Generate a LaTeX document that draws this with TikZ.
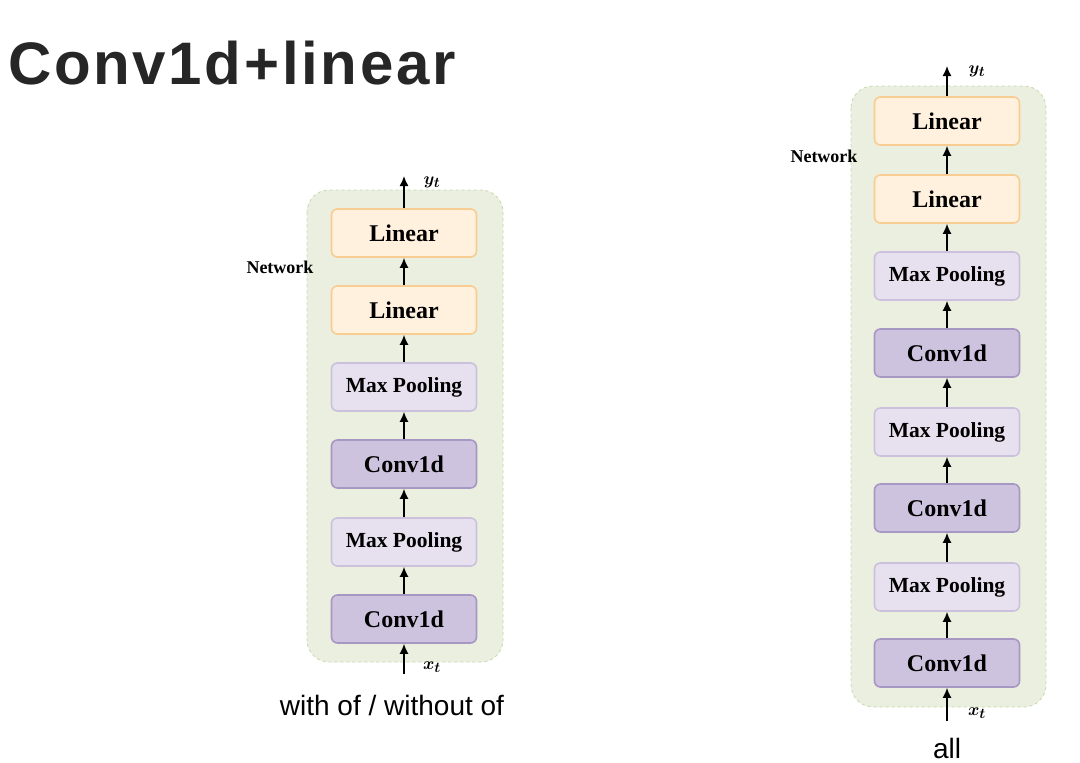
\documentclass[tikz,border=0pt]{standalone}
\usepackage{amsmath}
\usepackage{bm}
\usepackage{fontspec}
\usepackage{tikz}
\usepackage{xcolor}
\usetikzlibrary{arrows.meta}
\usetikzlibrary{positioning}
\setmainfont{Liberation Serif}
\newfontfamily\titlefont[LetterSpace=4.5]{Liberation Sans}
\newfontfamily\capfont{Liberation Sans}

\definecolor{linfill}{HTML}{FFF1DE}
\definecolor{linline}{HTML}{F8CD92}
\definecolor{poolfill}{HTML}{E7E1EF}
\definecolor{poolline}{HTML}{CCC1DD}
\definecolor{convfill}{HTML}{CEC3DF}
\definecolor{convline}{HTML}{A797C3}
\definecolor{netfill}{HTML}{EBEFDF}
\definecolor{netline}{HTML}{C6D9AC}

\tikzset{
	layer/.style={rounded corners=6pt, line width=1.6pt, minimum width=145pt,
		minimum height=48pt, inner sep=0pt, font=\fontsize{24}{26}\selectfont\bfseries},
	linbox/.style={layer, draw=linline, fill=linfill},
	poolbox/.style={layer, draw=poolline, fill=poolfill, font=\fontsize{21.5}{24}\selectfont\bfseries},
	convbox/.style={layer, draw=convline, fill=convfill},
	netbox/.style={rounded corners=22pt, dashed, line width=0.8pt, draw=netline, fill=netfill},
	flow/.style={-{Latex[length=10pt, width=9pt]}, line width=1.5pt},
	sig/.style={font=\fontsize{19}{21}\selectfont},
	nettag/.style={font=\fontsize{18}{20}\selectfont\bfseries},
	caption/.style={font=\capfont\fontsize{28}{30}\selectfont},
}

\begin{document}
\begin{tikzpicture}[x=1pt, y=-1pt]
	\useasboundingbox[fill=white] (0,0) rectangle (1080,763);

	% title
	\node[anchor=west, inner sep=0pt, font=\titlefont\fontsize{60}{66}\selectfont\bfseries, text=black!85] (title) at (8,63) {Conv1d+linear};

	% left network: with of / without of
	\draw[netbox] (307,190) rectangle (503,662);
	\node[linbox] (la) at (404,233) {Linear};
	\node[linbox] (lb) at (404,310) {Linear};
	\node[poolbox] (lc) at (404,387) {Max Pooling};
	\node[convbox] (ld) at (404,464) {Conv1d};
	\node[poolbox] (le) at (404,542) {Max Pooling};
	\node[convbox] (lf) at (404,619) {Conv1d};
	\coordinate (lin) at (404,674);
	\coordinate (lout) at (404,176);
	\draw[flow] (lin) -- (lf);
	\draw[flow] (lf) -- (le);
	\draw[flow] (le) -- (ld);
	\draw[flow] (ld) -- (lc);
	\draw[flow] (lc) -- (lb);
	\draw[flow] (lb) -- (la);
	\draw[flow] (la) -- (lout);
	\node[sig] (lx) at (432,667) {$\bm{x_t}$};
	\node[sig] (ly) at (432,182) {$\bm{y_t}$};
	\node[nettag] (lnet) at (280,267) {Network};
	\node[caption] (lcap) at (392,705) {with of / without of};

	% right network: all
	\draw[netbox] (851,86) rectangle (1046,707);
	\node[linbox] (ra) at (947,121) {Linear};
	\node[linbox] (rb) at (947,199) {Linear};
	\node[poolbox] (rc) at (947,276) {Max Pooling};
	\node[convbox] (rd) at (947,353) {Conv1d};
	\node[poolbox] (re) at (947,432) {Max Pooling};
	\node[convbox] (rf) at (947,508) {Conv1d};
	\node[poolbox] (rg) at (947,587) {Max Pooling};
	\node[convbox] (rh) at (947,663) {Conv1d};
	\coordinate (rin) at (947,721);
	\coordinate (rout) at (947,66);
	\draw[flow] (rin) -- (rh);
	\draw[flow] (rh) -- (rg);
	\draw[flow] (rg) -- (rf);
	\draw[flow] (rf) -- (re);
	\draw[flow] (re) -- (rd);
	\draw[flow] (rd) -- (rc);
	\draw[flow] (rc) -- (rb);
	\draw[flow] (rb) -- (ra);
	\draw[flow] (ra) -- (rout);
	\node[sig] (rx) at (977,713) {$\bm{x_t}$};
	\node[sig] (ry) at (977,71) {$\bm{y_t}$};
	\node[nettag] (rnet) at (824,156) {Network};
	\node[caption] (rcap) at (947,748) {all};
\end{tikzpicture}
\end{document}
